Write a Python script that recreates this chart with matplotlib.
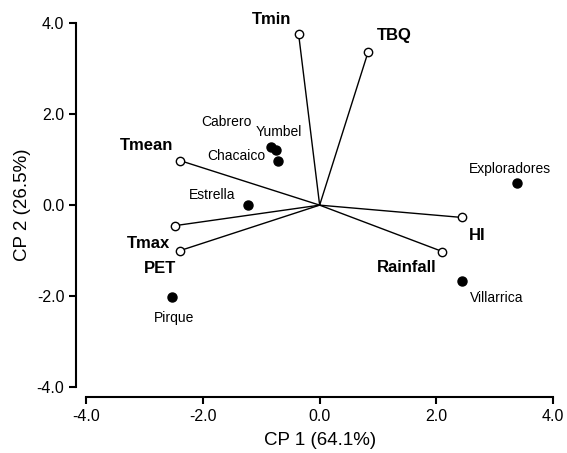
import matplotlib
matplotlib.use("Agg")
import matplotlib.pyplot as plt

plt.rcParams['font.family'] = ['Liberation Sans', 'DejaVu Sans']
plt.rcParams['axes.unicode_minus'] = False

# Loadings of the climatic variables (vector endpoints)
variables = ['Tmin', 'TBQ', 'Tmean', 'Tmax', 'PET', 'HI', 'Rainfall']
var_cp1 = [-0.36, 0.83, -2.39, -2.47, -2.39, 2.43, 2.10]
var_cp2 = [3.76, 3.37, 0.98, -0.45, -1.00, -0.27, -1.02]

# Site scores
sites = ['Cabrero', 'Yumbel', 'Chacaico', 'Estrella', 'Exploradores', 'Villarrica', 'Pirque']
site_cp1 = [-0.83, -0.75, -0.71, -1.22, 3.38, 2.43, -2.53]
site_cp2 = [1.27, 1.22, 0.96, 0.01, 0.48, -1.67, -2.03]

ticks = [-4, -2, 0, 2, 4]
tick_labels = ['-4.0', '-2.0', '0.0', '2.0', '4.0']

# label offsets from the marker (data units)
var_offsets = {'Tmin': (-0.46, 0.32), 'TBQ': (0.44, 0.36), 'Tmean': (-0.58, 0.34),
               'Tmax': (-0.46, -0.40), 'PET': (-0.34, -0.40), 'HI': (0.27, -0.40),
               'Rainfall': (-0.61, -0.35)}
site_offsets = {'Cabrero': (-0.77, 0.55), 'Yumbel': (0.05, 0.38), 'Chacaico': (-0.71, 0.11),
                'Estrella': (-0.62, 0.22), 'Exploradores': (-0.12, 0.32),
                'Villarrica': (0.60, -0.37), 'Pirque': (0.04, -0.45)}

fig = plt.figure(figsize=(5.67, 4.53), dpi=100)
ax = fig.add_axes([0.1517, 0.1457, 0.8241, 0.8029])

# vectors from origin
for name, x, y in zip(variables, var_cp1, var_cp2):
    ax.plot([0, x], [0, y], color='black', lw=1.0, zorder=2)
    ax.plot(x, y, 'o', ms=6, mfc='white', mec='black', mew=1.0, zorder=3)
    dx, dy = var_offsets[name]
    ax.text(x + dx, y + dy, name, ha='center', va='center',
            fontsize=12, fontweight='bold')

# sites
ax.plot(site_cp1, site_cp2, 'o', ms=6.5, color='black', ls='none', zorder=3)
for name, x, y in zip(sites, site_cp1, site_cp2):
    dx, dy = site_offsets[name]
    ax.text(x + dx, y + dy, name, ha='center', va='center', fontsize=10)

ax.set_xlim(-4, 4)
ax.set_ylim(-4, 4)
ax.set_xticks(ticks)
ax.set_xticklabels(tick_labels)
ax.set_yticks(ticks)
ax.set_yticklabels(tick_labels)
ax.tick_params(labelsize=11.5, width=1.5, length=5, direction='out')

ax.spines[['top', 'right']].set_visible(False)
for side in ['left', 'bottom']:
    ax.spines[side].set_position(('outward', 7))
    ax.spines[side].set_linewidth(1.5)

ax.set_xlabel('CP 1 (64.1%)', fontsize=13.5, labelpad=6)
ax.set_ylabel('CP 2 (26.5%)', fontsize=13.5, labelpad=4)

plt.savefig('out.png', dpi=100)
